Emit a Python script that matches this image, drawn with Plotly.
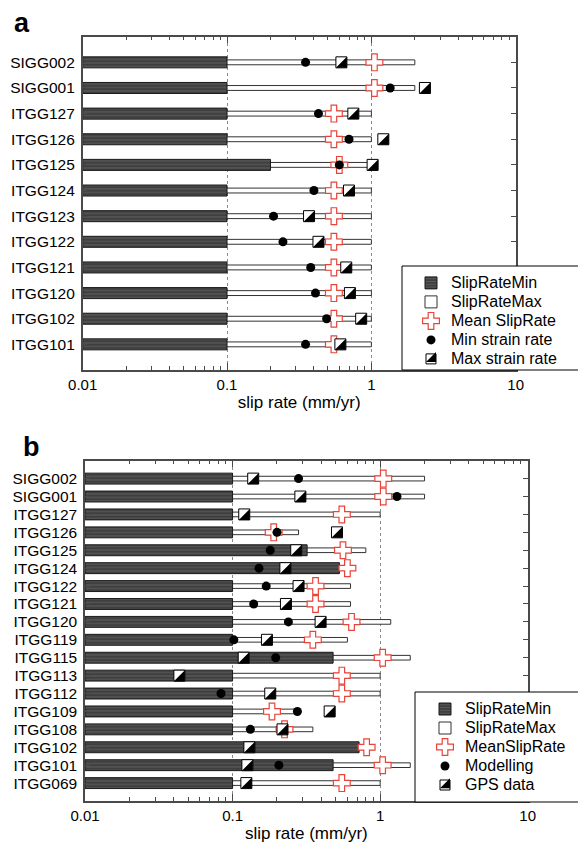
import plotly.graph_objects as go

# ---------------- data ----------------
STATIONS_A = ["SIGG002", "SIGG001", "ITGG127", "ITGG126", "ITGG125", "ITGG124",
              "ITGG123", "ITGG122", "ITGG121", "ITGG120", "ITGG102", "ITGG101"]
SLIP_MIN_A = [0.1, 0.1, 0.1, 0.1, 0.2, 0.1, 0.1, 0.1, 0.1, 0.1, 0.1, 0.1]
SLIP_MAX_A = [2.0, 2.0, 1.0, 1.0, 1.0, 1.0, 1.0, 1.0, 1.0, 1.0, 1.0, 1.0]
SLIP_MEAN_A = [1.05, 1.05, 0.55, 0.55, 0.6, 0.55, 0.55, 0.55, 0.55, 0.55, 0.55, 0.55]
STRAIN_MIN_A = [0.35, 1.35, 0.43, 0.70, 0.60, 0.40, 0.21, 0.244, 0.38, 0.41, 0.49, 0.35]
STRAIN_MAX_A = [0.62, 2.35, 0.75, 1.21, 1.02, 0.70, 0.37, 0.43, 0.67, 0.71, 0.85, 0.61]

STATIONS_B = ["SIGG002", "SIGG001", "ITGG127", "ITGG126", "ITGG125", "ITGG124",
              "ITGG122", "ITGG121", "ITGG120", "ITGG119", "ITGG115", "ITGG113",
              "ITGG112", "ITGG109", "ITGG108", "ITGG102", "ITGG101", "ITGG069"]
SLIP_MIN_B = [0.1, 0.1, 0.1, 0.1, 0.32, 0.53, 0.1, 0.1, 0.1, 0.1, 0.48, 0.1,
              0.1, 0.1, 0.1, 0.72, 0.48, 0.1]
SLIP_MAX_B = [2.0, 2.0, 1.0, 0.28, 0.8, 0.67, 0.63, 0.63, 1.18, 0.6, 1.6, 1.0,
              1.0, 0.27, 0.35, 0.9, 1.6, 1.0]
SLIP_MEAN_B = [1.05, 1.05, 0.55, 0.19, 0.56, 0.6, 0.365, 0.365, 0.64, 0.35, 1.04, 0.55,
               0.55, 0.185, 0.225, 0.81, 1.04, 0.55]
MODELLING_B = [0.28, 1.30, None, 0.20, 0.18, 0.151, 0.169, 0.139, 0.239, 0.102, 0.196, None,
               0.0835, 0.275, 0.132, None, 0.206, None]
GPS_B = [0.138, 0.288, 0.12, 0.51, 0.27, 0.228, 0.28, 0.23, 0.395, 0.171, 0.119, 0.0436,
         0.18, 0.455, 0.218, 0.13, 0.126, 0.124]

X_TICKS = [0.01, 0.1, 1, 10]
X_TICK_TEXT = ["0.01", "0.1", "1", "10"]
X_TITLE = "slip rate (mm/yr)"
NAMES_A = ["SlipRateMin", "SlipRateMax", "Mean SlipRate", "Min strain rate", "Max strain rate"]
NAMES_B = ["SlipRateMin", "SlipRateMax", "MeanSlipRate", "Modelling", "GPS data"]

# ---------------- style / page geometry ----------------
OFF = 8                     # page body margin of the browser
W, H = 586 - OFF, 843 - OFF
FONT = "Liberation Sans, Arial, Helvetica, sans-serif"
RED = "#e8443a"
XMIN = 0.01
HALF = 5.5  # half size of the half-filled square glyph (px)
LEG_FONT = 12               # drives legend row spacing
LEG_TEXT = 16               # visible legend text size


def fx(px):
    return (px - OFF) / W


def fy(py):
    return 1 - (py - OFF) / H


def leg_name(n):
    return f"<span style='font-size:{LEG_TEXT}px'>{n}</span>"


fig = go.Figure()


def add_panel(xa, ya, legend, stations, smin, smax, smean, p1, p2, names, w_dark, w_white):
    fig.add_trace(go.Bar(
        orientation="h", y=stations, x=[v - XMIN for v in smax], base=XMIN,
        width=w_white, name=leg_name(names[1]), legend=legend, legendrank=2,
        marker=dict(color="white", line=dict(color="#333333", width=1)),
        xaxis=xa, yaxis=ya))
    fig.add_trace(go.Bar(
        orientation="h", y=stations, x=[v - XMIN for v in smin], base=XMIN,
        width=w_dark, name=leg_name(names[0]), legend=legend, legendrank=1,
        marker=dict(color="#3f3f3f", line=dict(color="#1a1a1a", width=1),
                    pattern=dict(shape="-", fgcolor="#7a7a7a", bgcolor="#3f3f3f",
                                 size=3.5, solidity=0.3)),
        xaxis=xa, yaxis=ya))
    fig.add_trace(go.Scatter(
        x=smean, y=stations, mode="markers", name=leg_name(names[2]), legend=legend,
        legendrank=3,
        marker=dict(symbol="cross", size=14, color="white", line=dict(color=RED, width=1.2)),
        xaxis=xa, yaxis=ya))
    fig.add_trace(go.Scatter(
        x=p1, y=stations, mode="markers", name=leg_name(names[3]), legend=legend,
        legendrank=4,
        marker=dict(symbol="circle", size=9, color="black"),
        xaxis=xa, yaxis=ya))
    fig.add_trace(go.Scatter(
        x=p2, y=stations, mode="markers", name=names[4], showlegend=False,
        marker=dict(symbol="square", size=11, color="white", line=dict(color="black", width=1)),
        xaxis=xa, yaxis=ya))
    # legend-only entry whose icon is an open square (triangle drawn underneath)
    fig.add_trace(go.Scatter(
        x=[None], y=[None], mode="markers", name=leg_name(names[4]), legend=legend,
        legendrank=5,
        marker=dict(symbol="square-open", size=10, color="black", line=dict(width=1)),
        xaxis=xa, yaxis=ya))
    for st, v in zip(stations, p2):
        if v is None:
            continue
        fig.add_shape(type="path", xref=xa, yref=ya, xsizemode="pixel", ysizemode="pixel",
                      xanchor=v, yanchor=st,
                      path=f"M{HALF},{-HALF}L{HALF},{HALF}L{-HALF},{-HALF}Z",
                      fillcolor="black", line=dict(width=0), layer="above")


add_panel("x", "y", "legend", STATIONS_A, SLIP_MIN_A, SLIP_MAX_A, SLIP_MEAN_A,
          STRAIN_MIN_A, STRAIN_MAX_A, NAMES_A, 0.43, 0.19)
add_panel("x2", "y2", "legend2", STATIONS_B, SLIP_MIN_B, SLIP_MAX_B, SLIP_MEAN_B,
          MODELLING_B, GPS_B, NAMES_B, 0.61, 0.26)

LINE = "#4a4a4a"


def xaxis_cfg(domain, anchor):
    return dict(domain=domain, anchor=anchor, type="log", range=[-2, 1],
                tickmode="array", tickvals=X_TICKS, ticktext=X_TICK_TEXT,
                ticks="inside", ticklen=7, tickcolor=LINE, mirror="ticks",
                showline=True, linecolor=LINE, linewidth=1.5,
                showgrid=True, gridcolor="#8a8a8a", griddash="dot", gridwidth=1,
                minor=dict(ticks="inside", ticklen=4, tickcolor=LINE, dtick="D1", showgrid=False),
                tickfont=dict(size=15, color="black", family=FONT),
                title=dict(text=X_TITLE, font=dict(size=17, color="black", family=FONT), standoff=4),
                zeroline=False, automargin=False, fixedrange=True)


def yaxis_cfg(domain, anchor, cats, rng):
    return dict(domain=domain, anchor=anchor, type="category", categoryorder="array",
                categoryarray=cats, range=rng, tickmode="array", tickvals=cats, ticktext=cats,
                ticks="inside", ticklen=5, tickcolor=LINE,
                mirror="ticks", showline=True, linecolor=LINE, linewidth=1.5,
                showgrid=False, zeroline=False, ticklabelstandoff=3,
                tickfont=dict(size=15.5, color="black", family=FONT),
                automargin=False, fixedrange=True)


# legend boxes (screen px: left, top, right, bottom) and legend entry origin
BOX_A = (402, 266, 584, 370)
BOX_B = (415, 692, 583, 802)
LEG_A_POS = (402, 268.4, 9)    # left, top, indentation
LEG_B_POS = (415, 694.5, 10)

legend_common = dict(xanchor="left", yanchor="top", bgcolor="rgba(0,0,0,0)",
                     borderwidth=0, traceorder="normal",
                     font=dict(size=LEG_FONT, color="black", family=FONT),
                     itemwidth=30)

fig.update_layout(
    width=W, height=H, margin=dict(l=0, r=0, t=0, b=0, autoexpand=False),
    paper_bgcolor="white", plot_bgcolor="white",
    barmode="overlay", showlegend=True,
    font=dict(family=FONT, color="black"),
    xaxis=xaxis_cfg([fx(82.7), fx(515.7)], "y"),
    yaxis=yaxis_cfg([fy(370), fy(36.7)], "x", STATIONS_A, [12, -1]),
    xaxis2=xaxis_cfg([fx(85), fx(527.7)], "y2"),
    yaxis2=yaxis_cfg([fy(801), fy(460.7)], "x2", STATIONS_B, [18, -1]),
    legend=dict(x=fx(LEG_A_POS[0]), y=fy(LEG_A_POS[1]), indentation=LEG_A_POS[2], **legend_common),
    legend2=dict(x=fx(LEG_B_POS[0]), y=fy(LEG_B_POS[1]), indentation=LEG_B_POS[2], **legend_common),
    annotations=[
        dict(text="<b>a</b>", x=fx(12), y=fy(22.5), xref="paper", yref="paper",
             xanchor="left", yanchor="middle", showarrow=False,
             font=dict(size=27, color="black", family=FONT)),
        dict(text="<b>b</b>", x=fx(20.5), y=fy(446.5), xref="paper", yref="paper",
             xanchor="left", yanchor="middle", showarrow=False,
             font=dict(size=27, color="black", family=FONT)),
    ],
)

# legend frames (white, bordered) drawn under the transparent legends
for (l, t, r, b) in (BOX_A, BOX_B):
    fig.add_shape(type="rect", xref="paper", yref="paper", x0=fx(l), x1=fx(r), y0=fy(b), y1=fy(t),
                  fillcolor="white", line=dict(width=1, color="black"), layer="above")
# black half of the GPS / max-strain legend glyph (under the open-square legend icon)
ROW_H = LEG_FONT * 1.3 + 3
for (lx, ty, ind) in (LEG_A_POS, LEG_B_POS):
    cx = lx + ind + 20
    cy = ty + 5 + ROW_H / 2 + 4 * ROW_H
    fig.add_shape(type="path", xref="paper", yref="paper", xsizemode="pixel", ysizemode="pixel",
                  xanchor=fx(cx), yanchor=fy(cy),
                  path="M5,-5L5,5L-5,-5Z",
                  fillcolor="black", line=dict(width=0), layer="above")

fig.write_html("out.html")
